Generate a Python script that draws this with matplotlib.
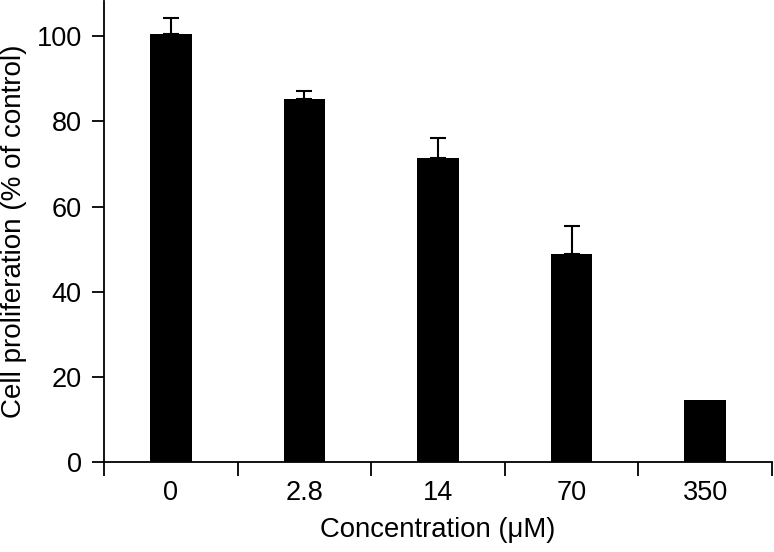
import matplotlib.pyplot as plt
import numpy as np

plt.rcParams['font.family'] = ['Liberation Sans', 'DejaVu Sans']

# data
concentrations = ["0", "2.8", "14", "70", "350"]
proliferation = [100.5, 85.2, 71.5, 48.9, 14.6]
sd_upper = [3.8, 1.8, 4.7, 6.5, 0.0]

fig = plt.figure(figsize=(7.74, 5.52), dpi=100)
ax = fig.add_axes([0.1344, 0.1625, 0.8630, 0.8355])

x = np.arange(len(concentrations))
ax.bar(x, proliferation, width=0.31, color="black")

# only the upper half of the error bar, skip bars without SD
has_err = np.array(sd_upper) > 0
ax.errorbar(x[has_err], np.array(proliferation)[has_err],
            yerr=[np.zeros(has_err.sum()), np.array(sd_upper)[has_err]],
            fmt="none", ecolor="black", elinewidth=1.5, capsize=6, capthick=1.5)

ax.set_xlim(-0.5, len(x) - 0.5)
ax.set_ylim(0, 108.2)
ax.set_yticks(np.arange(0, 101, 20))

# labels at bar centers, tick marks at category borders
ax.set_xticks(x)
ax.set_xticklabels(concentrations)
ax.tick_params(axis="x", which="major", length=0, pad=13, labelsize=19.5)
ax.set_xticks(np.arange(-0.5, len(x), 1), minor=True)
ax.tick_params(axis="x", which="minor", length=10, width=1.3, direction="out")
ax.tick_params(axis="y", length=9, width=1.3, direction="out", pad=7, labelsize=19.5)

for s in ["top", "right"]:
    ax.spines[s].set_visible(False)
for s in ["left", "bottom"]:
    ax.spines[s].set_linewidth(1.3)

ax.set_xlabel("Concentration (\u03bcM)", fontsize=19.8, labelpad=8)
ax.set_ylabel("Cell proliferation (% of control)", fontsize=20, labelpad=7)

fig.savefig("out.png", dpi=100)
